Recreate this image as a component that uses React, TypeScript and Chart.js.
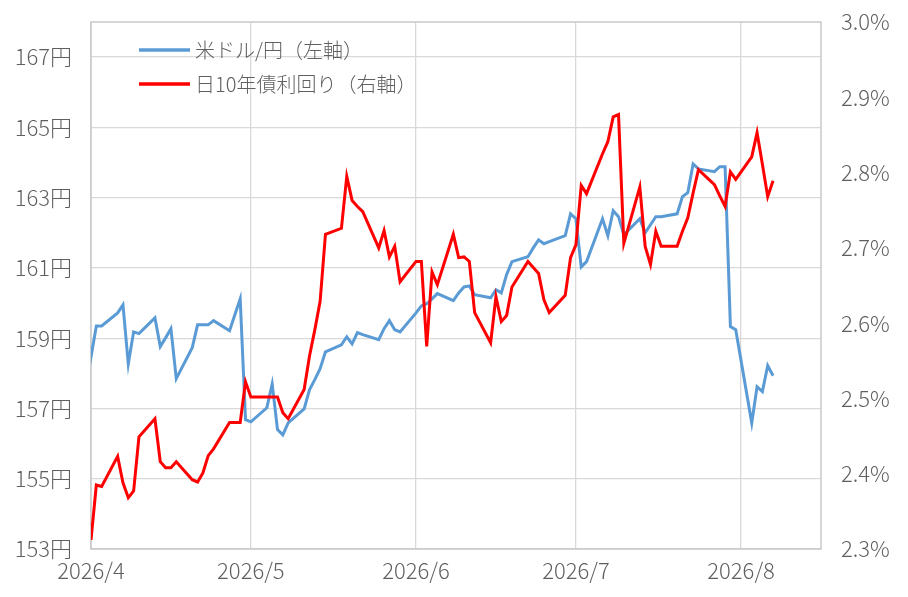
import React, { useEffect, useRef } from "react";
import { Chart, registerables } from "chart.js";

Chart.register(...registerables);

// business days, year 2026
const dates = [
  "3/31",
  "4/1", "4/2", "4/3",
  "4/6", "4/7", "4/8", "4/9", "4/10",
  "4/13", "4/14", "4/15", "4/16", "4/17",
  "4/20", "4/21", "4/22", "4/23", "4/24",
  "4/27", "4/28", "4/29", "4/30", "5/1",
  "5/4", "5/5", "5/6", "5/7", "5/8",
  "5/11", "5/12", "5/13", "5/14", "5/15",
  "5/18", "5/19", "5/20", "5/21", "5/22",
  "5/25", "5/26", "5/27", "5/28", "5/29",
  "6/1", "6/2", "6/3", "6/4", "6/5",
  "6/8", "6/9", "6/10", "6/11", "6/12",
  "6/15", "6/16", "6/17", "6/18", "6/19",
  "6/22", "6/23", "6/24", "6/25", "6/26",
  "6/29", "6/30", "7/1", "7/2", "7/3",
  "7/6", "7/7", "7/8", "7/9", "7/10",
  "7/13", "7/14", "7/15", "7/16", "7/17",
  "7/20", "7/21", "7/22", "7/23", "7/24",
  "7/27", "7/28", "7/29", "7/30", "7/31",
  "8/3", "8/4", "8/5", "8/6", "8/7",
];

// 米ドル/円 (左軸)
const usdJpy = [
  159.6,
  158.47, 159.35, 159.35,
  159.72, 159.95, 158.27, 159.18, 159.13,
  159.58, 158.76, 159.01, 159.27, 157.85,
  158.73, 159.38, 159.38, 159.38, 159.5,
  159.21, 159.67, 160.12, 156.68, 156.62,
  157.02, 157.7, 156.4, 156.25, 156.59,
  156.99, 157.53, 157.82, 158.13, 158.61,
  158.81, 159.04, 158.84, 159.16, 159.1,
  158.96, 159.27, 159.5, 159.24, 159.18,
  159.72, 159.92, 159.98, 160.12, 160.27,
  160.07, 160.29, 160.46, 160.49, 160.24,
  160.15, 160.38, 160.29, 160.81, 161.18,
  161.32, 161.57, 161.8, 161.69, 161.75,
  161.92, 162.54, 162.4, 161.03, 161.18,
  162.4, 161.92, 162.63, 162.46, 161.94,
  162.4, 162.0, 162.23, 162.46, 162.46,
  162.54, 163.03, 163.14, 163.96, 163.82,
  163.74, 163.88, 163.88, 159.33, 159.24,
  156.59, 157.62, 157.48, 158.22, 157.93,
];

// 日10年債利回り (右軸, %)
const jgb10y = [
  2.392,
  2.312, 2.385, 2.383,
  2.423, 2.388, 2.368, 2.377, 2.449,
  2.473, 2.416, 2.408, 2.408, 2.416,
  2.392, 2.389, 2.401, 2.424, 2.433,
  2.468, 2.468, 2.468, 2.522, 2.502,
  2.502, 2.502, 2.502, 2.481, 2.473,
  2.512, 2.556, 2.591, 2.629, 2.718,
  2.726, 2.795, 2.763, 2.755, 2.748,
  2.7, 2.723, 2.688, 2.702, 2.655,
  2.682, 2.682, 2.569, 2.668, 2.651,
  2.718, 2.687, 2.688, 2.682, 2.614,
  2.574, 2.635, 2.602, 2.61, 2.648,
  2.682, 2.674, 2.666, 2.631, 2.614,
  2.637, 2.687, 2.704, 2.783, 2.772,
  2.825, 2.841, 2.874, 2.877, 2.706,
  2.781, 2.702, 2.678, 2.722, 2.702,
  2.702, 2.722, 2.74, 2.773, 2.804,
  2.784, 2.769, 2.755, 2.801, 2.791,
  2.821, 2.853, 2.811, 2.768, 2.789,
];

const monthStarts = ["4/1", "5/1", "6/1", "7/1", "8/1"];
const monthLabels = ["2026/4", "2026/5", "2026/6", "2026/7", "2026/8"];
const axisEnd = "8/16";
const yenTicks = [153, 155, 157, 159, 161, 163, 165, 167];

const FONT = "'Noto Sans CJK JP', 'Noto Sans', sans-serif";
const TEXT = "#5f5f5f";
const GRID = "#d9d9d9";

// days since 2026/4/1
const dayOf = (md: string) => {
  const [m, d] = md.split("/").map(Number);
  return (Date.UTC(2026, m - 1, d) - Date.UTC(2026, 3, 1)) / 86400000;
};

const noEdgePadding = (s: any) => {
  s.paddingTop = 0;
  s.paddingBottom = 0;
  s.paddingLeft = 0;
  s.paddingRight = 0;
};

const framePlugin = {
  id: "frame",
  beforeDatasetsDraw(chart: any) {
    const { ctx, chartArea: a } = chart;
    ctx.save();
    ctx.strokeStyle = "#c9c9c9";
    ctx.lineWidth = 1.5;
    ctx.strokeRect(a.left, a.top, a.right - a.left, a.bottom - a.top);
    ctx.restore();
  },
};

const insideLegend = {
  id: "insideLegend",
  afterDraw(chart: any) {
    const { ctx, chartArea: a } = chart;
    ctx.save();
    ctx.font = `300 20px ${FONT}`;
    ctx.textBaseline = "middle";
    chart.data.datasets.forEach((ds: any, i: number) => {
      const y = a.top + 28 + i * 34;
      ctx.strokeStyle = ds.borderColor;
      ctx.lineWidth = 3.5;
      ctx.beginPath();
      ctx.moveTo(a.left + 48, y);
      ctx.lineTo(a.left + 99, y);
      ctx.stroke();
      ctx.fillStyle = TEXT;
      ctx.fillText(ds.label, a.left + 104, y);
    });
    ctx.restore();
  },
};

const UsdJpyChart: React.FC = () => {
  const canvasRef = useRef<HTMLCanvasElement | null>(null);

  useEffect(() => {
    if (!canvasRef.current) return;
    const ctx = canvasRef.current.getContext("2d");
    if (!ctx) return;

    const xs = dates.map(dayOf);
    const tickDays = monthStarts.map(dayOf);
    const tickFont = { family: FONT, size: 22, weight: 300 as any };

    const chart = new Chart(ctx, {
      type: "line",
      data: {
        datasets: [
          {
            label: "米ドル/円（左軸）",
            data: usdJpy.map((v, i) => ({ x: xs[i], y: v })),
            borderColor: "#5b9bd5",
            borderWidth: 3,
            pointRadius: 0,
            tension: 0,
            yAxisID: "y",
            order: 1,
          },
          {
            label: "日10年債利回り（右軸）",
            data: jgb10y.map((v, i) => ({ x: xs[i], y: v })),
            borderColor: "#ff0000",
            borderWidth: 3,
            pointRadius: 0,
            tension: 0,
            yAxisID: "y1",
            order: 0,
          },
        ],
      },
      options: {
        animation: false,
        responsive: true,
        maintainAspectRatio: false,
        layout: { padding: { top: 22, left: 0, right: 0, bottom: 0 } },
        plugins: {
          legend: { display: false },
          tooltip: { enabled: false },
        },
        scales: {
          x: {
            type: "linear",
            min: 0,
            max: dayOf(axisEnd),
            afterBuildTicks: (s: any) => {
              s.ticks = tickDays.map((v) => ({ value: v }));
            },
            afterFit: (s: any) => {
              s.height = 48;
              noEdgePadding(s);
            },
            ticks: {
              autoSkip: false,
              maxRotation: 0,
              padding: 8,
              color: TEXT,
              font: tickFont,
              callback: (v: any) => monthLabels[tickDays.indexOf(Number(v))] ?? "",
            },
            grid: { color: GRID, lineWidth: 1.3, drawTicks: false },
            border: { display: false },
          },
          y: {
            position: "left",
            min: 153,
            max: 168,
            afterBuildTicks: (s: any) => {
              s.ticks = yenTicks.map((v) => ({ value: v }));
            },
            afterFit: (s: any) => {
              s.width = 91;
              noEdgePadding(s);
            },
            ticks: {
              padding: 19,
              color: TEXT,
              font: tickFont,
              callback: (v: any) => `${v}円`,
            },
            grid: { color: GRID, lineWidth: 1.3, drawTicks: false },
            border: { display: false },
          },
          y1: {
            position: "right",
            min: 2.3,
            max: 3.0,
            afterFit: (s: any) => {
              s.width = 87;
              noEdgePadding(s);
            },
            ticks: {
              stepSize: 0.1,
              padding: 20,
              color: TEXT,
              font: tickFont,
              callback: (v: any) => `${Number(v).toFixed(1)}%`,
            },
            grid: { display: false, drawTicks: false },
            border: { display: false },
          },
        },
      },
      plugins: [framePlugin, insideLegend],
    });

    return () => {
      chart.destroy();
    };
  }, []);

  return (
    <div style={{ position: "fixed", left: 0, top: 0, width: 908, height: 597, background: "#fff" }}>
      <canvas ref={canvasRef} />
    </div>
  );
};

export default function App() {
  return <UsdJpyChart />;
}
